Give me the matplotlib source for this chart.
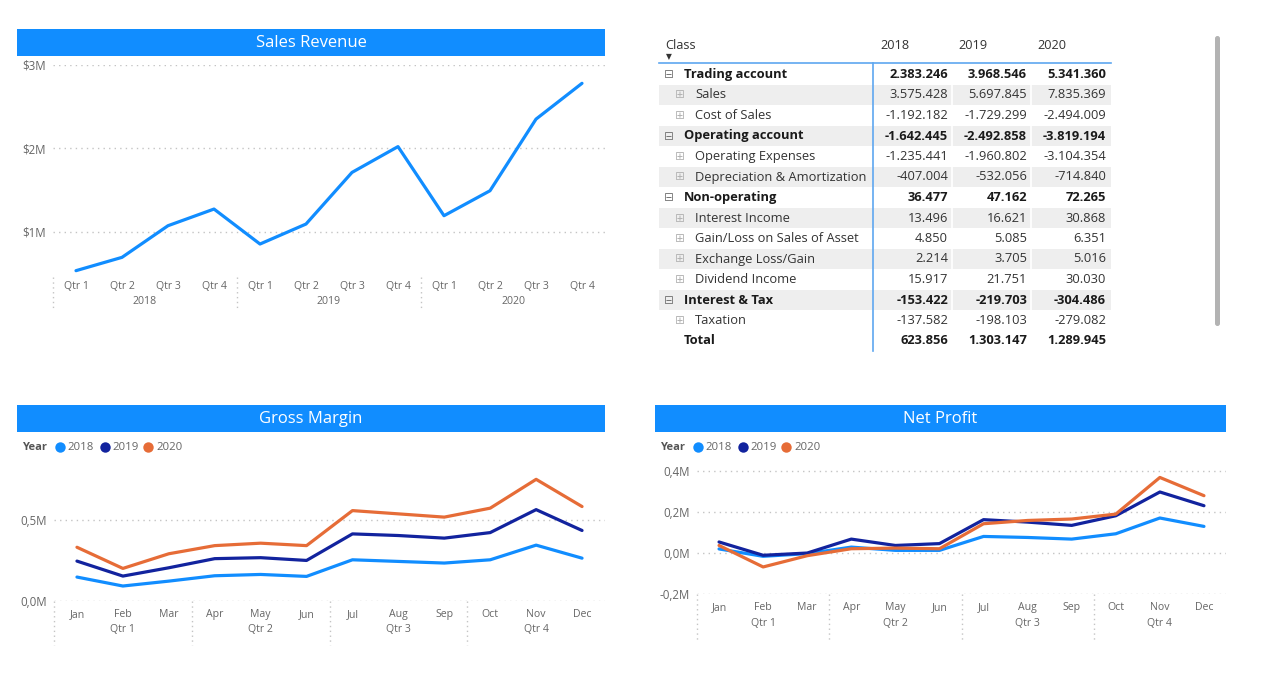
import matplotlib.pyplot as plt
from matplotlib.patches import Rectangle, FancyBboxPatch
from matplotlib.ticker import FuncFormatter

quarters = ['Qtr 1', 'Qtr 2', 'Qtr 3', 'Qtr 4']
years = ['2018', '2019', '2020']
sales_revenue = [0.53, 0.69, 1.07, 1.27, 0.85, 1.09, 1.71, 2.02, 1.19, 1.49, 2.35, 2.78]  # milhoes

months = ['Jan', 'Feb', 'Mar', 'Apr', 'May', 'Jun', 'Jul', 'Aug', 'Sep', 'Oct', 'Nov', 'Dec']
gross_2018 = [0.147, 0.092, 0.122, 0.155, 0.163, 0.151, 0.253, 0.243, 0.233, 0.253, 0.343, 0.263]
gross_2019 = [0.245, 0.153, 0.204, 0.260, 0.266, 0.249, 0.412, 0.402, 0.386, 0.420, 0.561, 0.433]
gross_2020 = [0.330, 0.200, 0.290, 0.340, 0.355, 0.340, 0.555, 0.535, 0.515, 0.570, 0.747, 0.580]

net_2018 = [0.020, -0.016, -0.003, 0.029, 0.013, 0.013, 0.081, 0.076, 0.068, 0.094, 0.171, 0.130]
net_2019 = [0.054, -0.011, 0.000, 0.068, 0.037, 0.046, 0.163, 0.151, 0.135, 0.182, 0.298, 0.231]
net_2020 = [0.037, -0.068, -0.013, 0.021, 0.024, 0.021, 0.143, 0.159, 0.166, 0.190, 0.369, 0.280]

row_labels = ['Trading account', 'Sales', 'Cost of Sales', 'Operating account', 'Operating Expenses',
              'Depreciation & Amortization', 'Non-operating', 'Interest Income',
              'Gain/Loss on Sales of Asset', 'Exchange Loss/Gain', 'Dividend Income',
              'Interest & Tax', 'Taxation', 'Total']
row_level = [0, 1, 1, 0, 1, 1, 0, 1, 1, 1, 1, 0, 1, 2]
tab_2018 = [2383246, 3575428, -1192182, -1642445, -1235441, -407004, 36477, 13496, 4850, 2214, 15917,
            -153422, -137582, 623856]
tab_2019 = [3968546, 5697845, -1729299, -2492858, -1960802, -532056, 47162, 16621, 5085, 3705, 21751,
            -219703, -198103, 1303147]
tab_2020 = [5341360, 7835369, -2494009, -3819194, -3104354, -714840, 72265, 30868, 6351, 5016, 30030,
            -304486, -279082, 1289945]

C18, C19, C20 = '#118DFF', '#12239E', '#E66C37'
FONT = ['Open Sans', 'DejaVu Sans']
plt.rcParams['font.family'] = FONT

W, H = 1268, 696
fig = plt.figure(figsize=(W / 100, H / 100), dpi=100)


def box(l, t, r, b):
    return [l / W, 1 - b / H, (r - l) / W, (b - t) / H]


bg = fig.add_axes([0, 0, 1, 1])
bg.set_xlim(0, W)
bg.set_ylim(H, 0)
bg.axis('off')


def title_bar(l, r, t, b, txt):
    bg.add_patch(Rectangle((l, t), r - l, b - t, color='#118DFF', lw=0))
    bg.text((l + r) / 2, (t + b) / 2 + 0.5, txt, color='white', fontsize=12, ha='center', va='center')


def legend(x, y):
    bg.text(x, y, 'Year', fontsize=8, fontweight='bold', color='#555555', va='center')
    pos = [(x + 38, x + 45), (x + 83, x + 90), (x + 126, x + 134)]
    for (mx, tx), yr, c in zip(pos, years, [C18, C19, C20]):
        bg.plot([mx], [y], 'o', color=c, ms=7.5, mec='none')
        bg.text(tx, y, yr, fontsize=8.2, color='#666666', va='center')


def style(ax, lo, hi, ticks, fmt):
    ax.set_xlim(-0.5, 11.5)
    ax.set_ylim(lo, hi)
    ax.set_yticks(ticks)
    ax.yaxis.set_major_formatter(FuncFormatter(fmt))
    for s in ax.spines.values():
        s.set_visible(False)
    ax.grid(axis='y', ls=(0, (1, 3)), color='#c4c4c4', lw=1)
    ax.set_axisbelow(True)
    ax.tick_params(length=0, labelsize=7.6, labelcolor='#666666')
    ax.tick_params(axis='y', pad=5, labelsize=8.3)
    ax.tick_params(axis='x', pad=3)
    ax.patch.set_alpha(0)


def groups(ax, names, centers, seps, dy, sep_len):
    for n, c in zip(names, centers):
        ax.annotate(n, xy=(c, 0), xycoords=('data', 'axes fraction'), xytext=(0, -dy),
                    textcoords='offset pixels', ha='center', va='center', fontsize=7.6, color='#666666')
    tr = ax.get_xaxis_transform()
    h = ax.get_position().height * H
    for s in seps:
        ax.plot([s, s], [0, -sep_len / h], transform=tr, clip_on=False, ls=(0, (1, 2.5)),
                color='#c4c4c4', lw=1)


# Sales Revenue
title_bar(17, 605, 29, 56, 'Sales Revenue')
ax1 = fig.add_axes(box(53, 65, 605, 277))
ax1.plot(range(12), [v * 1e6 for v in sales_revenue], color=C18, lw=2.3, solid_capstyle='round')
style(ax1, 0.454e6, 3.0e6, [1e6, 2e6, 3e6], lambda v, p: f'${v / 1e6:.0f}M')
ax1.set_xticks(range(12))
ax1.set_xticklabels(quarters * 3)
groups(ax1, years, [1.5, 5.5, 9.5], [-0.5, 3.5, 7.5], 24, 34)

# Gross Margin
title_bar(17, 605, 405, 432, 'Gross Margin')
legend(22, 447)
ax2 = fig.add_axes(box(54, 465, 605, 601))
for vals, c in [(gross_2018, C18), (gross_2019, C19), (gross_2020, C20)]:
    ax2.plot(range(12), [v * 1e6 for v in vals], color=c, lw=2.3, solid_capstyle='round')
style(ax2, 0, 0.835e6, [0, 0.5e6], lambda v, p: f'{v / 1e6:.1f}M'.replace('.', ','))
ax2.set_xticks(range(12))
ax2.set_xticklabels(months)
ax2.tick_params(axis='x', pad=6)
groups(ax2, quarters, [1, 4, 7, 10], [-0.5, 2.5, 5.5, 8.5], 29, 44)

# Net Profit
title_bar(655, 1226, 405, 432, 'Net Profit')
legend(660, 447)
ax3 = fig.add_axes(box(697, 467, 1226, 594))
for vals, c in [(net_2018, C18), (net_2019, C19), (net_2020, C20)]:
    ax3.plot(range(12), [v * 1e6 for v in vals], color=c, lw=2.3, solid_capstyle='round')
style(ax3, -0.2e6, 0.42e6, [-0.2e6, 0, 0.2e6, 0.4e6], lambda v, p: f'{v / 1e6:.1f}M'.replace('.', ','))
ax3.set_xticks(range(12))
ax3.set_xticklabels(months)
ax3.tick_params(axis='x', pad=6)
groups(ax3, quarters, [1, 4, 7, 10], [-0.5, 2.5, 5.5, 8.5], 29, 46)

# tabela (matriz)
tl, tr_, vline = 659, 1111, 873
col_right = [948, 1027, 1106]
col_left = [880, 958, 1037]
row_y = [74.5 + i * 20.5 for i in range(len(row_labels))]

bg.text(665, 45.5, 'Class', fontsize=9.2, color='#333333', va='center')
bg.text(669, 57, '\u25BC', fontsize=5.5, color='#333333', va='center', ha='center', family='DejaVu Sans')
for x, yr in zip(col_left, years):
    bg.text(x, 45.5, yr, fontsize=9.2, color='#333333', va='center')

for i, y in enumerate(row_y):
    if i % 2 == 1 and i < 13:
        bg.add_patch(Rectangle((tl, y - 10), tr_ - tl, 19.6, color='#eeeeee', lw=0))
        for sx in [952, 1031]:
            bg.plot([sx, sx], [y - 10, y + 9.6], color='white', lw=1.2)
bg.plot([tl, tr_], [63.3, 63.3], color='#5ea7f0', lw=1.2)
bg.plot([vline, vline], [63.3, 351], color='#5ea7f0', lw=1.2)

for lab, lvl, a, b, c, y in zip(row_labels, row_level, tab_2018, tab_2019, tab_2020, row_y):
    bold = lvl != 1
    w = 'bold' if bold else 'normal'
    col = '#1a1a1a' if bold else '#333333'
    if lvl == 0:
        bg.text(669, y, '\u229F', fontsize=8.5, color='#777777', ha='center', va='center',
                family='DejaVu Sans')
        bg.text(684, y, lab, fontsize=9.3, fontweight=w, color=col, va='center')
    elif lvl == 1:
        bg.text(680, y, '\u229E', fontsize=8.5, color='#b4b4b4', ha='center', va='center',
                family='DejaVu Sans')
        bg.text(695, y, lab, fontsize=9.3, color=col, va='center')
    else:
        bg.text(684, y, lab, fontsize=9.3, fontweight=w, color=col, va='center')
    for x, v in zip(col_right, [a, b, c]):
        bg.text(x, y, f'{v:,}'.replace(',', '.'), fontsize=9.3, fontweight=w, color=col,
                ha='right', va='center')

# barra de rolagem
bg.add_patch(FancyBboxPatch((1215, 36), 5, 290, boxstyle='round,pad=0,rounding_size=2.5',
                            color='#b3b3b3', lw=0))

fig.savefig('out.png', dpi=100, facecolor='white')
